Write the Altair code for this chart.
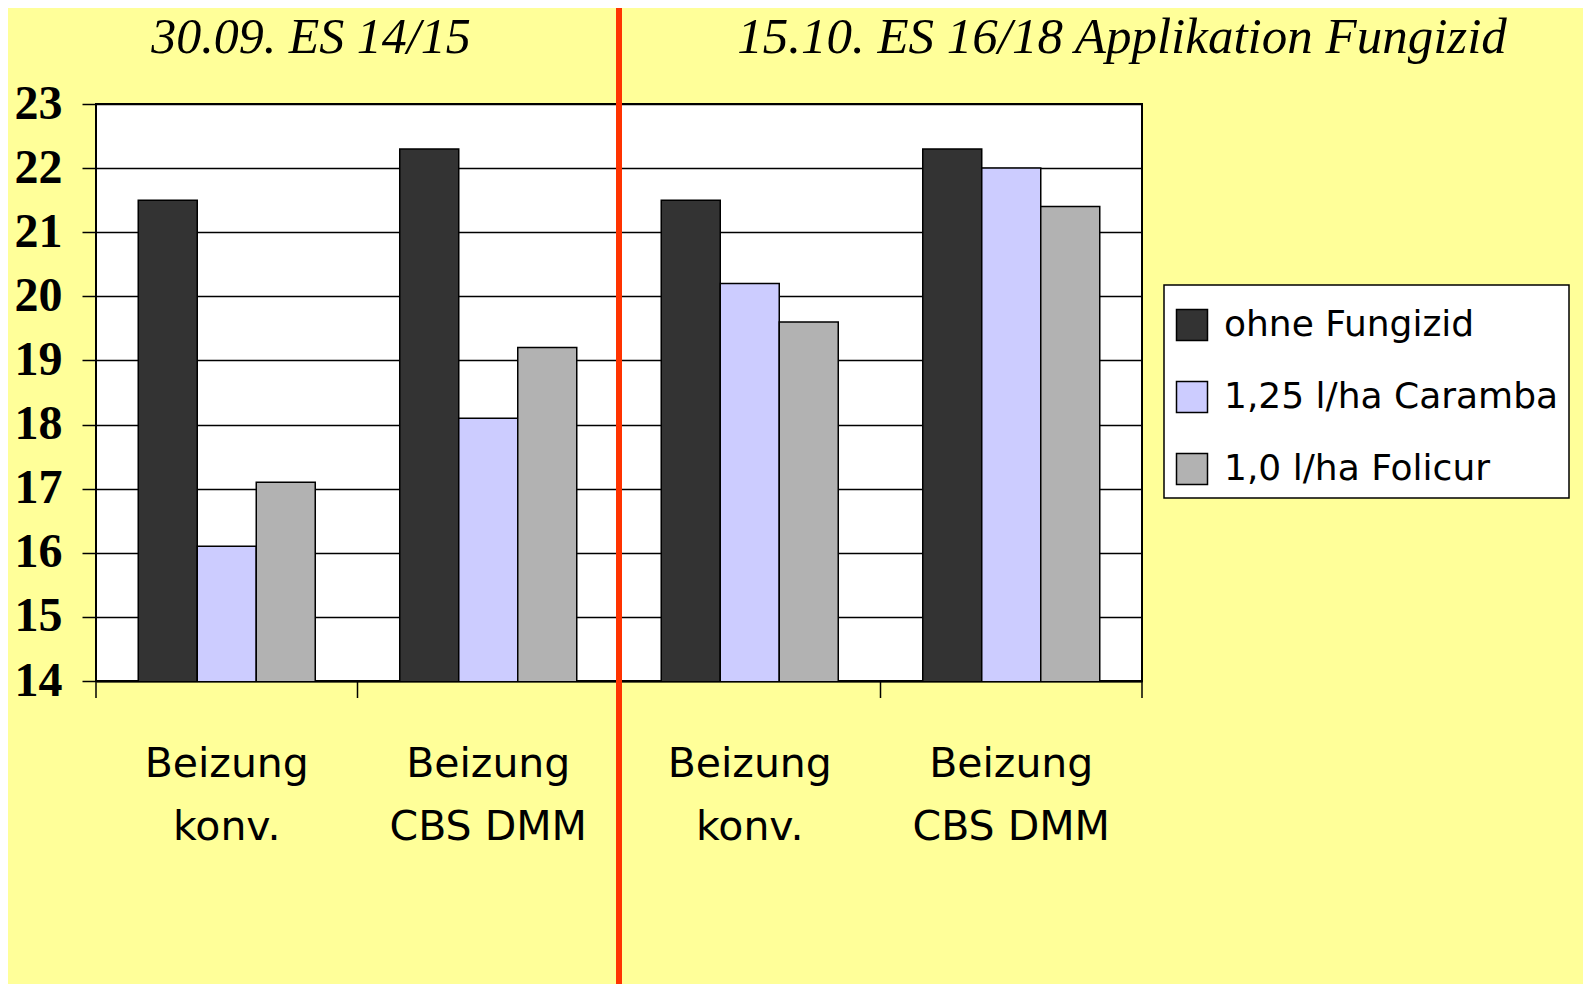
import altair as alt
import pandas as pd

groups = ["konv. 30.09.", "CBS DMM 30.09.", "konv. 15.10.", "CBS DMM 15.10."]
treatments = ["ohne Fungizid", "1,25 l/ha Caramba", "1,0 l/ha Folicur"]
colors = ["#333333", "#CCCCFF", "#B2B2B2"]
ohne = [21.5, 22.3, 21.5, 22.3]
caramba = [16.1, 18.1, 20.2, 22.0]
folicur = [17.1, 19.2, 19.6, 21.4]
titles = ["30.09. ES 14/15", "15.10. ES 16/18 Applikation Fungizid"]

rows = []
for i, g in enumerate(groups):
    for t, vals in zip(treatments, [ohne, caramba, folicur]):
        rows.append({"group": g, "treatment": t, "value": vals[i]})
df = pd.DataFrame(rows)

W, H = 1046, 577
xscale = alt.Scale(domain=groups, paddingInner=0, paddingOuter=0)

label_expr = "indexof(datum.value, 'konv') >= 0 ? ['Beizung', 'konv.'] : ['Beizung', 'CBS DMM']"

bars = alt.Chart(df).mark_bar(stroke="black", strokeWidth=1.5, clip=True).encode(
    x=alt.X("group:N", sort=groups, scale=xscale, title=None,
            axis=alt.Axis(labelExpr=label_expr, labelAngle=0, ticks=False,
                          labelFont="DejaVu Sans", labelFontSize=41, labelColor="black",
                          labelLineHeight=63, labelPadding=63, labelBaseline="top",
                          labelLimit=600,
                          domainColor="black", domainWidth=2, grid=False)),
    xOffset=alt.XOffset("treatment:N", sort=treatments,
                        scale=alt.Scale(domain=treatments, paddingInner=0, paddingOuter=0.716)),
    y=alt.Y("value:Q", scale=alt.Scale(domain=[14, 23], nice=False, zero=False), title=None,
            axis=alt.Axis(values=list(range(14, 24)), tickSize=14, tickColor="black", tickWidth=1.5,
                          labelFont="Liberation Serif", labelFontWeight="bold", labelFontSize=48,
                          labelColor="black", labelPadding=20, grid=True, gridColor="black",
                          gridWidth=1.5, gridOpacity=1, domain=False)),
    color=alt.Color("treatment:N", sort=treatments,
                    scale=alt.Scale(domain=treatments, range=colors),
                    legend=alt.Legend(orient="none", legendX=1068, legendY=181, title=" ",
                                      titleFontSize=6, titlePadding=6,
                                      fillColor="white", strokeColor="black",
                                      padding=10,
                                      symbolType="square", symbolSize=961, symbolStrokeColor="black",
                                      symbolStrokeWidth=1.5, symbolOpacity=1,
                                      labelFont="DejaVu Sans", labelFontSize=36, labelColor="black",
                                      labelOffset=14, rowPadding=34, labelLimit=600)),
)

tick_df = pd.DataFrame({"group": groups})
ticks = alt.Chart(tick_df).mark_rule(color="black", strokeWidth=1.5).encode(
    x=alt.X("group:N", sort=groups, scale=xscale, bandPosition=0),
    y=alt.value(H), y2=alt.value(H + 17),
)
end_tick = alt.Chart(pd.DataFrame({"group": groups[-1:]})).mark_rule(color="black", strokeWidth=1.5).encode(
    x=alt.X("group:N", sort=groups, scale=xscale, bandPosition=1),
    y=alt.value(H), y2=alt.value(H + 17),
)
divider = alt.Chart(pd.DataFrame({"group": groups[1:2]})).mark_rule(color="#FF3300", strokeWidth=6).encode(
    x=alt.X("group:N", sort=groups, scale=xscale, bandPosition=1),
    y=alt.value(-99), y2=alt.value(992 - 104),
)

title_df = pd.DataFrame({"t": titles})
t1 = alt.Chart(title_df.iloc[[0]]).mark_text(font="Liberation Serif", fontStyle="italic", fontSize=50,
                                             align="center", baseline="alphabetic", color="black").encode(
    text="t:N", x=alt.value(215), y=alt.value(-51))
t2 = alt.Chart(title_df.iloc[[1]]).mark_text(font="Liberation Serif", fontStyle="italic", fontSize=51,
                                             align="center", baseline="alphabetic", color="black").encode(
    text="t:N", x=alt.value(1026), y=alt.value(-51))

chart = alt.layer(bars, ticks, end_tick, divider, t1, t2).properties(
    width=W, height=H,
    autosize=alt.AutoSizeParams(type="none"),
    padding={"left": 88, "top": 96, "right": 1591 - 16 - 88 - W, "bottom": 992 - 16 - 96 - H},
    background="#FFFF99",
).configure_view(stroke="black", strokeWidth=2, fill="white").configure_legend(strokeWidth=1.5)

chart.save("out.html", embed_options={"renderer": "svg", "actions": False})
